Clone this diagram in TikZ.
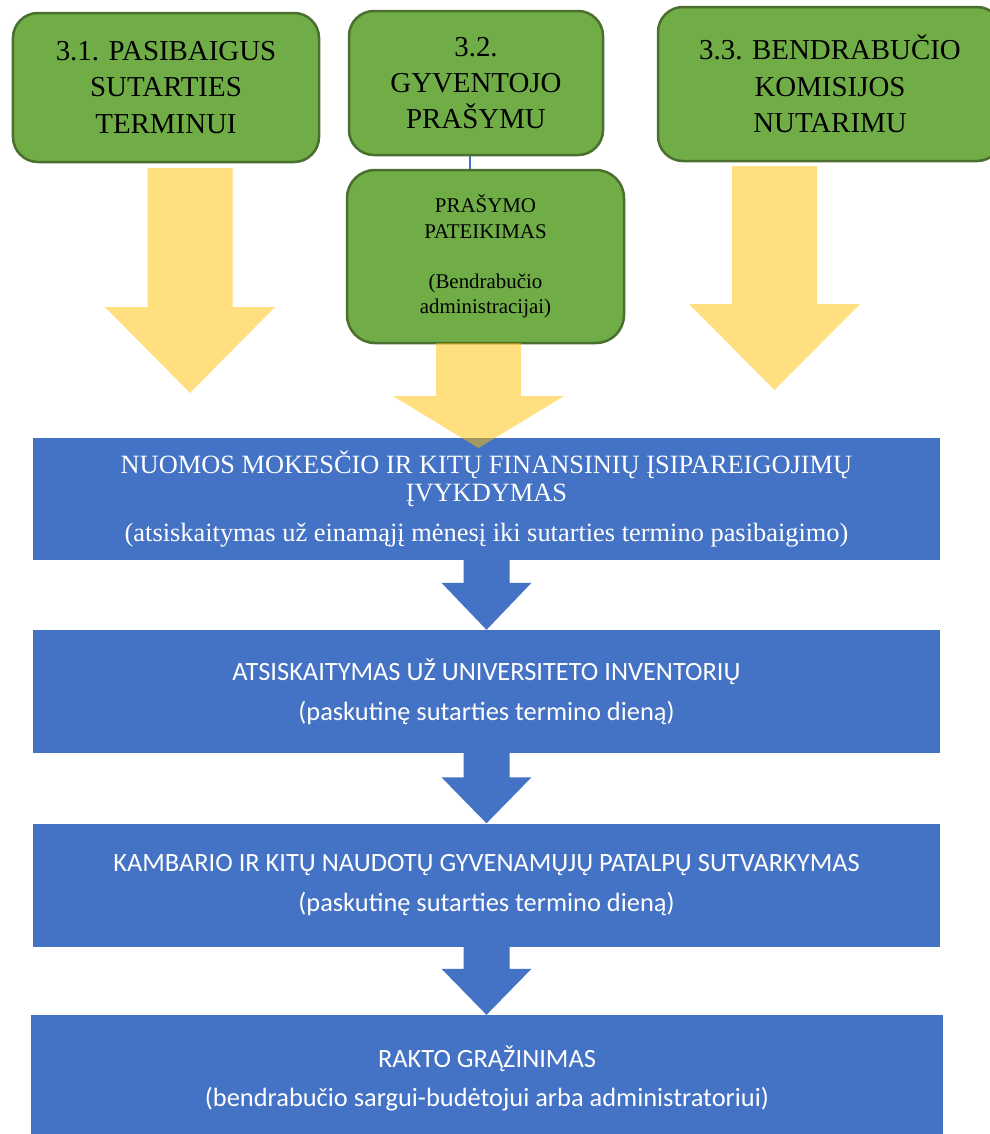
\documentclass[tikz,border=0pt]{standalone}
\usepackage{fontspec}
\setmainfont{Liberation Serif}
\newfontfamily\calibrifont{Carlito}
\usetikzlibrary{
    calc,
    positioning,
}
\definecolor{greenFill}{HTML}{70AD47}
\definecolor{greenLine}{HTML}{4A6F2E}
\definecolor{blueFill}{HTML}{4472C4}
\definecolor{yellowFill}{HTML}{FFC000}

% block arrow: style, start, tip, half shaft, half head, head length
\newcommand{\blockarrow}[6]{%
    \fill[#1] let \p1=(#2), \p2=(#3) in
        (\x1-#4,\y1) -- (\x1+#4,\y1) -- (\x1+#4,\y2+#6) -- (\x1+#5,\y2+#6)
        -- (\x1,\y2) -- (\x1-#5,\y2+#6) -- (\x1-#4,\y2+#6) -- cycle;}

\begin{document}
\begin{tikzpicture}[x=1bp,y=-1bp]

    \tikzstyle{commonBox}=[align=center, inner sep=0pt, rectangle]
    \tikzstyle{reason}=[commonBox, rounded corners=25bp, fill=greenFill, draw=greenLine, line width=2.5bp, font=\fontsize{29}{36.5}\selectfont]
    \tikzstyle{request}=[reason, rounded corners=28bp, font=\fontsize{21}{25.5}\selectfont]
    \tikzstyle{stepBox}=[commonBox, fill=blueFill, text=white, font=\calibrifont\fontsize{26.5}{40}\selectfont]
    \tikzstyle{firstStep}=[stepBox, font=\fontsize{26.5}{28}\selectfont]
    \tikzstyle{yellowArrow}=[fill=yellowFill, fill opacity=0.5]
    \tikzstyle{blueArrow}=[fill=blueFill]
    \tikzstyle{link}=[draw=blueFill, line width=1.5bp]

    \clip (0,0) rectangle (990,1134);
    \fill[white] (0,0) rectangle (990,1134);

    \begin{scope}
        % Reasons
        \node at (166, 87.5) [reason, minimum width=306bp, minimum height=149bp] (sut)  {3.1. PASIBAIGUS\\SUTARTIES\\TERMINUI};
        \node at (476, 83)   [reason, minimum width=254bp, minimum height=144bp] (pras) {3.2.\\GYVENTOJO\\PRAŠYMU};
        \node at (830, 84)   [reason, minimum width=344bp, minimum height=154bp] (kom)  {3.3. BENDRABUČIO\\KOMISIJOS\\NUTARIMU};
        \node at (485.5, 256.5) [request, minimum width=277bp, minimum height=173bp] (pateik) {PRAŠYMO\\PATEIKIMAS\\[25bp](Bendrabučio\\administracijai)};
        \draw [link] ([xshift=-6bp]pras.south) -- ([xshift=-6bp]pras.south |- pateik.north);

        % Steps
        \node at (486.5, 499)   [firstStep, minimum width=907bp, minimum height=122bp] (nuom)
            {NUOMOS MOKESČIO IR KITŲ FINANSINIŲ ĮSIPAREIGOJIMŲ\\ĮVYKDYMAS\\[12bp](atsiskaitymas už einamąjį mėnesį iki sutarties termino pasibaigimo)};
        \node at (486.5, 691.5) [stepBox, minimum width=907bp, minimum height=123bp] (inv)
            {ATSISKAITYMAS UŽ UNIVERSITETO INVENTORIŲ\\(paskutinę sutarties termino dieną)};
        \node at (486.5, 885)   [stepBox, minimum width=907bp, minimum height=123bp] (tvark)
            {KAMBARIO IR KITŲ NAUDOTŲ GYVENAMŲJŲ PATALPŲ SUTVARKYMAS\\(paskutinę sutarties termino dieną)};
        \node at (487, 1078.5)  [stepBox, minimum width=912bp, minimum height=127bp] (rakt)
            {RAKTO GRĄŽINIMAS\\(bendrabučio sargui-budėtojui arba administratoriui)};

        % Arrows between steps
        \blockarrow{blueArrow}{nuom.south}{inv.north}{23bp}{45bp}{47bp}
        \blockarrow{blueArrow}{inv.south}{tvark.north}{23bp}{45bp}{46bp}
        \blockarrow{blueArrow}{tvark.south}{rakt.north}{23bp}{45bp}{46bp}

        % Arrows from reasons
        \coordinate (ys1) at (190, 168);
        \coordinate (ye1) at (190, 393);
        \coordinate (ys2) at (478.5, 343);
        \coordinate (ye2) at (478.5, 448);
        \coordinate (ys3) at (774.5, 166);
        \coordinate (ye3) at (774.5, 390);
        \blockarrow{yellowArrow}{ys1}{ye1}{42.5bp}{85bp}{86bp}
        \blockarrow{yellowArrow}{ys2}{ye2}{42.5bp}{85.5bp}{52bp}
        \blockarrow{yellowArrow}{ys3}{ye3}{42.5bp}{85.5bp}{86bp}
    \end{scope}

\end{tikzpicture}
\end{document}
